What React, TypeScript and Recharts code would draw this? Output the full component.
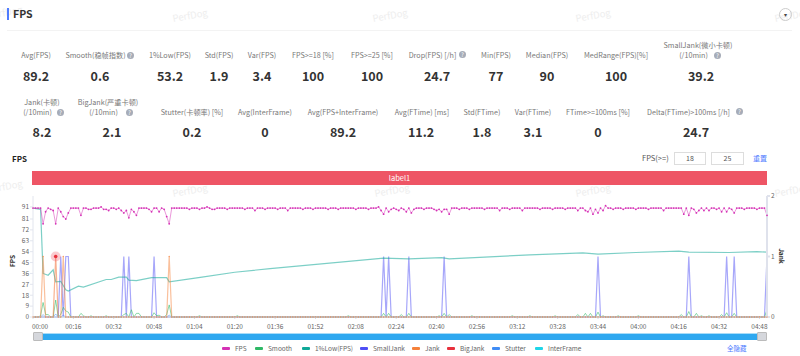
import { LineChart, Line, XAxis, YAxis } from 'recharts';

const FPS = [
  90,90,90,90,77,87,90,89,88,77,90,87,83,81,86,90,90,90,90,84,
  90,90,89,89,90,90,90,91,89,89,88,90,90,89,90,88,86,88,82,89,
  87,84,90,90,90,90,89,87,90,90,87,90,89,83,77,90,90,90,90,90,
  90,90,89,90,90,90,89,90,90,91,90,89,89,90,90,90,90,89,90,90,
  90,90,90,90,89,90,90,90,88,90,90,90,89,90,90,90,90,89,90,90,
  90,88,90,90,90,90,90,89,90,90,90,89,90,90,90,90,90,89,90,90,
  90,89,90,90,90,90,90,90,89,90,90,90,90,89,90,90,90,91,88,85,
  90,87,89,90,89,88,90,89,87,90,86,89,90,90,90,89,90,90,90,89,
  88,89,87,89,89,85,90,90,90,89,90,90,90,89,90,90,90,90,90,89,
  90,90,90,90,90,88,90,90,90,89,90,90,90,90,88,90,90,90,90,90,
  90,89,90,90,90,90,89,90,90,90,90,89,90,90,90,90,88,90,90,88,
  87,90,85,89,86,90,88,92,90,90,89,90,90,90,89,90,90,90,90,89,
  90,90,90,90,89,90,90,90,90,90,88,90,90,90,90,90,90,90,85,90,
  84,90,89,86,88,90,88,90,88,90,90,89,90,87,90,87,90,89,86,90,
  90,90,89,90,90,90,90,89,90,90,90,84,
];

// [time, value] pairs, zero everywhere else
const LOW_POINTS = [
  [0,90],[3,89],[4,36],[6,34.5],[8,39],[9,29],[11,29.5],[13,22.5],[14,21.5],[18,25.5],[20,24.7],
  [29,31],[31,31],[34,33],[37,33],[38,30.5],[41,30],[47,32.5],[53,32.5],[54,29],[67,33],[80,37],
  [94,40],[139,48.6],[149,48],[162,49],[165,48],[197,51.4],[218,53],[224,52],[239,53.3],[256,54.4],
  [260,53.6],[276,53.3],[287,54],[291,53.6],
];
const SMOOTH_POINTS = [
  [3,1],[4,12],[5,2],[6,2],[9,14],[11,2],[12,8],[13,5],[14,4],[19,3],[20,1],[23,1],[29,1],[36,2],
  [37,3],[39,6],[41,3],[42,3],[48,3.5],[49,1],[50,1.5],[53,2],[54,10],[66,1],[81,1],[125,1],[139,3],
  [141,3],[146,2],[149,3],[161,1],[163,3],[165,2],[174,1],[190,1],[197,1],[207,1],[216,2],[219,3],
  [221,3],[224,4],[226,1],[232,1],[240,1],[257,2],[260,4.5],[263,3],[265,1],[268,1],[273,2],[275,3.5],[278,3],[291,6],
];
const STUTTER_POINTS = [[4,2],[9,2.5],[12,1.5],[54,1.5]];
const SMALLJANK_TIMES = [11,13,14,36,38,48,139,141,149,163,224,260,275,278,291];
const JANK_TIMES = [4,9,12,54];
const BIGJANK_TIMES = [9];

const X_TICKS = [0,16,32,48,64,80,96,112,128,144,160,176,192,208,224,240,256,272,288];
const X_LABELS = ['00:00','00:16','00:32','00:48','01:04','01:20','01:36','01:52','02:08','02:24','02:40','02:56','03:12','03:28','03:44','04:00','04:16','04:32','04:48'];
const FPS_TICKS = [0,9,18,27,36,45,54,63,72,81,91];
const JANK_TICKS = [0,1,2];

const ROW1_LABELS = [['Avg(FPS)'],['Smooth(稳帧指数)'],['1%Low(FPS)'],['Std(FPS)'],['Var(FPS)'],['FPS>=18 [%]'],['FPS>=25 [%]'],['Drop(FPS) [/h]'],['Min(FPS)'],['Median(FPS)'],['MedRange(FPS)[%]'],['SmallJank(微小卡顿)','(/10min)']];
const ROW1_VALUES = ['89.2','0.6','53.2','1.9','3.4','100','100','24.7','77','90','100','39.2'];
const ROW2_LABELS = [['Jank(卡顿)','(/10min)'],['BigJank(严重卡顿)','(/10min)'],['Stutter(卡顿率) [%]'],['Avg(InterFrame)'],['Avg(FPS+InterFrame)'],['Avg(FTime) [ms]'],['Std(FTime)'],['Var(FTime)'],['FTime>=100ms [%]'],['Delta(FTime)>100ms [/h]']];
const ROW2_VALUES = ['8.2','2.1','0.2','0','89.2','11.2','1.8','3.1','0','24.7'];
const ROW1_HELP = [1, 7, 11];
const ROW2_HELP = [0, 1, 9];

const LEGEND_NAMES = ['FPS','Smooth','1%Low(FPS)','SmallJank','Jank','BigJank','Stutter','InterFrame'];
const LEGEND_COLORS = ['#d531b5','#2fb866','#10a898','#4f4ff5','#f5813a','#e8303c','#3f8cf5','#1fd5e8'];

// layout only
const ROW1_X = [36,100,170,219,262,313,372,437,496,547,616,698];
const ROW1_VALUE_X = [36,100,170,219,262,313,372,437,496,547,616,701];
const ROW2_X = [42,108,192,265,343,422,482,533,598,693];
const ROW2_VALUE_X = [42,112,192,265,343,421,482,533,598,696];
const LEGEND_X = [222,255,302,360,412,447,492,535];
const WATERMARKS = [[5,12],[190,15],[390,15],[593,15],[792,15],[5,186],[190,190],[392,190],[593,190],[792,190]];

const FONT = '"Noto Sans CJK SC", "Noto Sans", sans-serif';

const lookup = (pairs: number[][]) => new Map(pairs.map(([t, v]) => [t, v]));
const lowAt = lookup(LOW_POINTS);
const smoothAt = lookup(SMOOTH_POINTS);
const stutterAt = lookup(STUTTER_POINTS);

const table = FPS.map((fps, t) => ({
  t,
  fps,
  low: lowAt.has(t) ? lowAt.get(t) : null,
  smooth: smoothAt.get(t) ?? 0,
  stutter: stutterAt.get(t) ?? 0,
  interFrame: 0,
  smallJank: SMALLJANK_TIMES.includes(t) ? 1 : 0,
  jank: JANK_TIMES.includes(t) ? 1 : 0,
  bigJank: BIGJANK_TIMES.includes(t) ? 1 : 0,
}));

function XTick({ x, y, payload, index }: any) {
  const dx = index === 0 ? 7 : 0;
  return (
    <text x={x + dx} y={y + 8} textAnchor="middle" fontSize={6.5} fill="#666" fontFamily={FONT}>
      {X_LABELS[X_TICKS.indexOf(payload.value)]}
    </text>
  );
}

function BigJankDot({ cx, cy, value, index }: any) {
  if (!value) return <g key={index} />;
  return (
    <g key={index}>
      <circle cx={cx} cy={cy} r={5} fill="#f0525f" fillOpacity={0.3} />
      <circle cx={cx} cy={cy} r={1.8} fill="#e8303c" />
    </g>
  );
}

function Help({ x, y }: { x: number; y: number }) {
  return (
    <div style={{ position: 'absolute', left: x, top: y, width: 7, height: 7, borderRadius: 4, background: '#a6acb8', color: '#fff', fontSize: 6, lineHeight: '7px', textAlign: 'center' }}>?</div>
  );
}

function StatRow({ labels, values, labelX, valueX, labelY, valueY, help }: any) {
  return (
    <>
      {labels.map((lines: string[], i: number) => (
        <div key={i} style={{ position: 'absolute', left: labelX[i] - 60, width: 120, top: lines.length > 1 ? labelY - 10 : labelY, textAlign: 'center', fontSize: 7.2, lineHeight: '10px', color: '#777' }}>
          {lines.map((line, j) => (
            <div key={j}>
              {line}
              {help.includes(i) && j === lines.length - 1 ? <span style={{ display: 'inline-block', width: 9 }} /> : null}
            </div>
          ))}
        </div>
      ))}
      {values.map((value: string, i: number) => (
        <div key={i} style={{ position: 'absolute', left: valueX[i] - 40, width: 80, top: valueY, textAlign: 'center', fontSize: 12.5, lineHeight: '16px', fontWeight: 700, color: '#333' }}>{value}</div>
      ))}
    </>
  );
}

export default function App() {
  return (
    <div style={{ position: 'absolute', left: 0, top: 0, width: 800, height: 356, overflow: 'hidden', background: '#fff', fontFamily: FONT }}>
      {WATERMARKS.map(([x, y], i) => (
        <div key={i} style={{ position: 'absolute', left: x - 20, top: y - 7, width: 40, textAlign: 'center', fontSize: 9.5, lineHeight: '14px', color: '#eeeeee', transform: 'rotate(-10deg)' }}>PerfDog</div>
      ))}

      {/* page header */}
      <div style={{ position: 'absolute', left: 7, top: 8, width: 2, height: 12, background: '#4f7cff' }} />
      <div style={{ position: 'absolute', left: 13, top: 6, fontSize: 10.5, lineHeight: '16px', fontWeight: 700, color: '#333' }}>FPS</div>
      <div style={{ position: 'absolute', left: 7, right: 8, top: 30, height: 1, background: '#f3f3f3' }} />
      <div style={{ position: 'absolute', left: 779, top: 8, width: 11, height: 11, border: '1px solid #ccc', borderRadius: 7, textAlign: 'center', fontSize: 6, lineHeight: '11px', color: '#444' }}>▾</div>

      {/* stat tiles */}
      <StatRow labels={ROW1_LABELS} values={ROW1_VALUES} labelX={ROW1_X} valueX={ROW1_VALUE_X} labelY={50} valueY={68} help={ROW1_HELP} />
      <StatRow labels={ROW2_LABELS} values={ROW2_VALUES} labelX={ROW2_X} valueX={ROW2_VALUE_X} labelY={107} valueY={124} help={ROW2_HELP} />
      <Help x={127} y={52} /><Help x={459} y={51} /><Help x={714} y={52} />
      <Help x={57} y={109} /><Help x={126} y={109} /><Help x={736} y={108} />

      {/* chart header */}
      <div style={{ position: 'absolute', left: 12, top: 153, fontSize: 8, lineHeight: '12px', fontWeight: 700, color: '#222' }}>FPS</div>
      <div style={{ position: 'absolute', left: 642, top: 152, fontSize: 7.5, lineHeight: '12px', color: '#555' }}>FPS(&gt;=)</div>
      <div style={{ position: 'absolute', left: 674, top: 152, width: 30, height: 11, border: '1px solid #ddd', textAlign: 'center', fontSize: 7, lineHeight: '11px', color: '#555' }}>18</div>
      <div style={{ position: 'absolute', left: 711, top: 152, width: 31, height: 11, border: '1px solid #ddd', textAlign: 'center', fontSize: 7, lineHeight: '11px', color: '#555' }}>25</div>
      <div style={{ position: 'absolute', left: 753, top: 152, fontSize: 7, lineHeight: '12px', color: '#4f7cff' }}>重置</div>

      <div style={{ position: 'absolute', left: 32, top: 171, width: 735, height: 14, background: '#ee5565', color: '#fff', textAlign: 'center', fontSize: 7.5, lineHeight: '14px' }}>label1</div>

      <div style={{ position: 'absolute', left: 0, top: 0 }}>
        <LineChart width={800} height={356} data={table} margin={{ top: 196, right: 3, bottom: 9, left: 3 }}>
          <XAxis dataKey="t" type="number" height={30} domain={[0, 291]} ticks={X_TICKS} interval={0} tick={<XTick />} tickSize={2} stroke="#d5dae6" />
          <YAxis yAxisId="fps" width={30} domain={[0, 100]} ticks={FPS_TICKS} interval={0} tick={{ fontSize: 6.5, fill: '#666', fontFamily: FONT }} tickSize={3} tickMargin={1} stroke="#e2e5ee" />
          <YAxis yAxisId="jank" orientation="right" width={30} domain={[0, 2]} ticks={JANK_TICKS} interval={0} tick={{ fontSize: 6.5, fill: '#666', fontFamily: FONT }} tickSize={3} tickMargin={1} stroke="#dfe2ec" strokeWidth={2} />
          <Line yAxisId="jank" dataKey="interFrame" stroke="#1fd5e8" strokeOpacity={0.4} strokeWidth={1} dot={false} isAnimationActive={false} />
          <Line yAxisId="fps" dataKey="stutter" stroke="#3f8cf5" strokeOpacity={0.5} strokeWidth={1} dot={false} isAnimationActive={false} />
          <Line yAxisId="jank" dataKey="smallJank" stroke="#4f4ff5" strokeOpacity={0.5} strokeWidth={1.2} dot={false} isAnimationActive={false} />
          <Line yAxisId="fps" dataKey="smooth" stroke="#2fb866" strokeOpacity={0.55} strokeWidth={1} dot={false} isAnimationActive={false} />
          <Line yAxisId="fps" dataKey="low" connectNulls stroke="#10a898" strokeOpacity={0.55} strokeWidth={1.2} dot={false} isAnimationActive={false} />
          <Line yAxisId="jank" dataKey="jank" stroke="#f5813a" strokeOpacity={0.5} strokeWidth={1.2} dot={{ r: 0.7, fill: '#f5813a', stroke: 'none', fillOpacity: 0.8 }} isAnimationActive={false} />
          <Line yAxisId="jank" dataKey="bigJank" stroke="#e8303c" strokeOpacity={0.1} strokeWidth={1} dot={<BigJankDot />} isAnimationActive={false} />
          <Line yAxisId="fps" dataKey="fps" stroke="#d531b5" strokeOpacity={0.5} strokeWidth={1} dot={{ r: 0.9, fill: '#d531b5', stroke: 'none' }} isAnimationActive={false} />
        </LineChart>
      </div>

      <div style={{ position: 'absolute', left: 0, top: 256, width: 24, textAlign: 'center', fontSize: 6.5, lineHeight: '10px', fontWeight: 700, color: '#333', transform: 'rotate(-90deg)' }}>FPS</div>
      <div style={{ position: 'absolute', left: 770, top: 251, width: 24, textAlign: 'center', fontSize: 6.5, lineHeight: '10px', fontWeight: 700, color: '#333', transform: 'rotate(90deg)' }}>Jank</div>

      {/* zoom slider */}
      <div style={{ position: 'absolute', left: 33, top: 333, width: 734, height: 7, background: '#2ea8f0', borderTop: '1px solid #a8dcf8', boxSizing: 'border-box' }} />
      <div style={{ position: 'absolute', left: 33, top: 332, width: 10, height: 9, background: '#d5d7dc', border: '1px solid #bbb', boxSizing: 'border-box', borderRadius: 1 }} />
      <div style={{ position: 'absolute', left: 757, top: 332, width: 10, height: 9, background: '#d5d7dc', border: '1px solid #bbb', boxSizing: 'border-box', borderRadius: 1 }} />

      {/* legend */}
      {LEGEND_NAMES.map((name, i) => (
        <div key={name}>
          <div style={{ position: 'absolute', left: LEGEND_X[i], top: 347, width: 8, height: 2.5, borderRadius: 1, background: LEGEND_COLORS[i] }} />
          <div style={{ position: 'absolute', left: LEGEND_X[i] + 13, top: 343, fontSize: 6.5, lineHeight: '11px', color: '#666', whiteSpace: 'nowrap' }}>{name}</div>
        </div>
      ))}
      <div style={{ position: 'absolute', left: 727, top: 343, fontSize: 6.5, lineHeight: '11px', color: '#4f7cff' }}>全隐藏</div>
    </div>
  );
}
